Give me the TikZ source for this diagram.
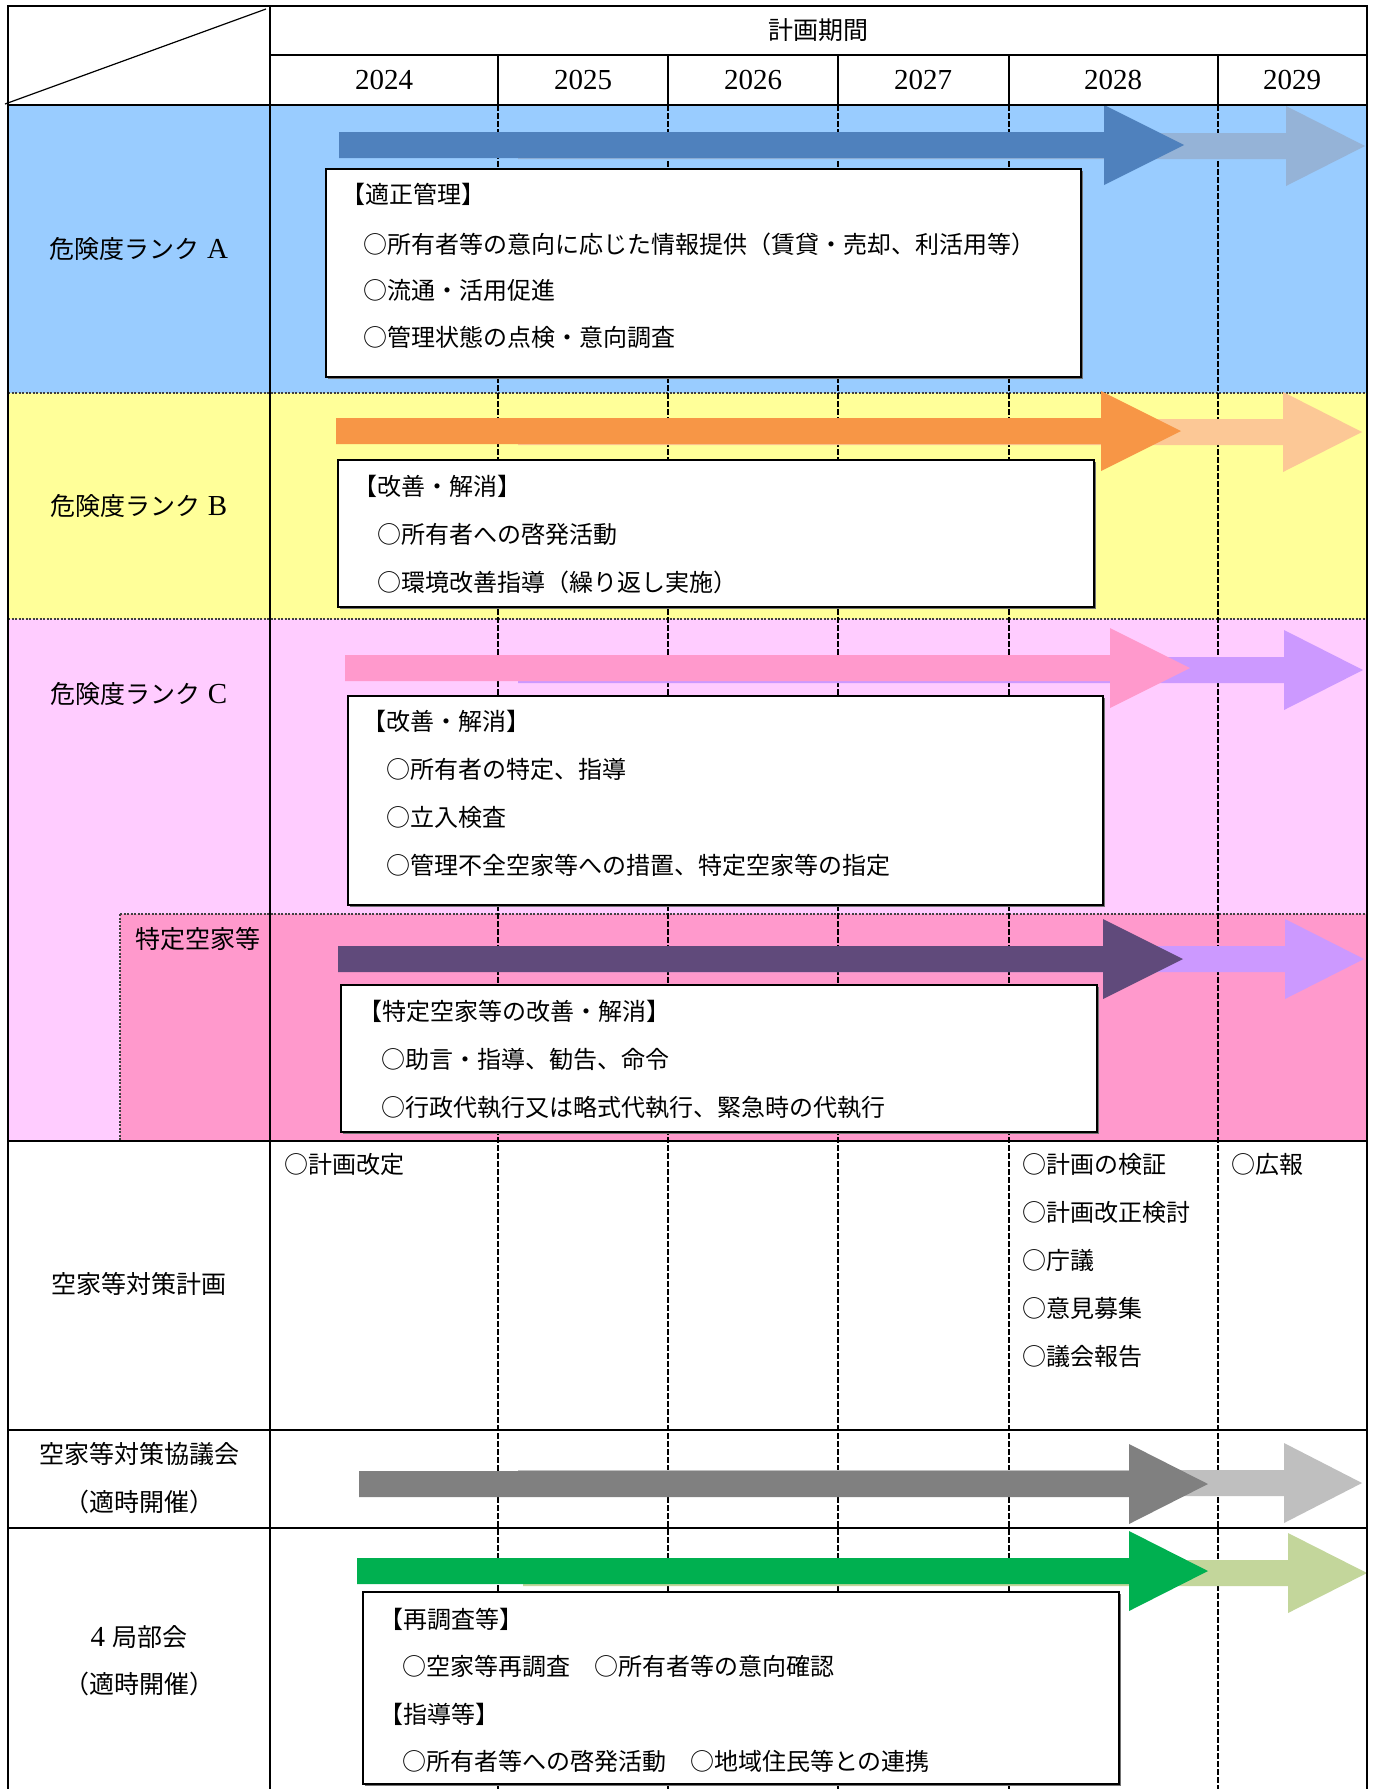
\documentclass[tikz,border=0pt]{standalone}
\usepackage{fontspec}
\newfontfamily\cjk{Noto Sans CJK JP}
\newfontfamily\latn{Liberation Serif}
\usetikzlibrary{shadows}
\definecolor{bgA}{HTML}{99CCFF}
\definecolor{bgB}{HTML}{FFFF99}
\definecolor{bgC}{HTML}{FFCCFF}
\definecolor{bgD}{HTML}{FF99CC}
\definecolor{arA}{HTML}{4F81BD}
\definecolor{arAl}{HTML}{95B3D7}
\definecolor{arB}{HTML}{F79646}
\definecolor{arBl}{HTML}{FCC896}
\definecolor{arC}{HTML}{FF99CC}
\definecolor{arCl}{HTML}{CC99FF}
\definecolor{arD}{HTML}{604A7B}
\definecolor{arG}{HTML}{808080}
\definecolor{arGl}{HTML}{BFBFBF}
\definecolor{arN}{HTML}{00B050}
\definecolor{arNl}{HTML}{C3D69B}
\newcommand\bxfont{\cjk\fontsize{24pt}{28pt}\selectfont}
\newcommand\lblfont{\cjk\fontsize{25pt}{30pt}\selectfont}
\newcommand\yrfont{\latn\fontsize{29pt}{32pt}\selectfont}
\newcommand\lat[1]{{\latn\fontsize{29pt}{32pt}\selectfont #1}}
% #1 colour, #2 x start, #3 x head base, #4 x tip, #5 y centre
\newcommand\blockarrow[5]{%
  \fill[#1] (#2,#5-13) -- (#3,#5-13) -- (#3,#5-40) -- (#4,#5) -- (#3,#5+40) -- (#3,#5+13) -- (#2,#5+13) -- cycle;}
\tikzset{
  rowlabel/.style={font=\lblfont, inner sep=0pt, text height=20pt, text depth=4pt},
  boxtxt/.style={anchor=west, font=\bxfont, inner sep=0pt, text height=20pt, text depth=4pt},
  yeartxt/.style={font=\yrfont, inner sep=0pt},
  infobox/.style={draw=black, line width=1.8pt, fill=white, anchor=north west, inner sep=0pt,
    drop shadow={shadow xshift=2.5pt, shadow yshift=-2.5pt, fill=black!55, opacity=1}},
  tableline/.style={line width=2pt, black},
  yeardiv/.style={line width=2.2pt, black, dash pattern=on 6pt off 2pt},
  sepline/.style={line width=1.2pt, black!75, dash pattern=on 2pt off 1.5pt},
}
\begin{document}
\begin{tikzpicture}[x=1pt,y=-1pt]
\useasboundingbox (0,0) rectangle (1379,1789);
\fill[white] (0,0) rectangle (1379,1789);
% backgrounds
\fill[bgA] (8,105) rectangle (1367,393);
\fill[bgB] (8,393) rectangle (1367,619);
\fill[bgC] (8,619) rectangle (1367,1141);
\fill[bgD] (120,914) rectangle (1367,1141);
% section separators
\draw[sepline] (8,393) -- (1367,393);
\draw[sepline] (8,619) -- (1367,619);
\draw[sepline] (120,914) -- (1367,914);
\draw[sepline] (120,914) -- (120,1141);
% year dividers in body
\foreach \xx in {498,668,838,1009,1218}{
  \draw[yeardiv] (\xx,105) -- (\xx,1789);
}
% arrows (light first, dark over)
\blockarrow{arAl}{518}{1286}{1365}{146}
\blockarrow{arA}{339}{1104}{1184}{145}
\blockarrow{arBl}{518}{1283}{1362}{432}
\blockarrow{arB}{336}{1101}{1181}{431}
\blockarrow{arCl}{518}{1284}{1363}{670}
\blockarrow{arC}{345}{1110}{1190}{668}
\blockarrow{arCl}{518}{1285}{1364}{959}
\blockarrow{arD}{338}{1103}{1183}{959}
\blockarrow{arGl}{518}{1284}{1362}{1483}
\blockarrow{arG}{359}{1129}{1208}{1484}
\blockarrow{arNl}{523}{1288}{1367}{1573}
\blockarrow{arN}{357}{1129}{1208}{1571}
% boxes
\node[infobox, minimum width=755pt, minimum height=208pt] (boxA) at (325,168) {};
\node[infobox, minimum width=756pt, minimum height=147pt] (boxB) at (337,459) {};
\node[infobox, minimum width=755pt, minimum height=209pt] (boxC) at (347,695) {};
\node[infobox, minimum width=756pt, minimum height=147pt] (boxD) at (340,984) {};
\node[infobox, minimum width=756pt, minimum height=192pt] (boxE) at (362,1591) {};
% box texts
\node[boxtxt] (a1) at (341,195) {【適正管理】};
\node[boxtxt] (a2) at (363,245) {○所有者等の意向に応じた情報提供（賃貸・売却、利活用等）};
\node[boxtxt] (a3) at (363,291) {○流通・活用促進};
\node[boxtxt] (a4) at (363,338) {○管理状態の点検・意向調査};
\node[boxtxt] (b1) at (353,487) {【改善・解消】};
\node[boxtxt] (b2) at (377,535) {○所有者への啓発活動};
\node[boxtxt] (b3) at (377,583) {○環境改善指導（繰り返し実施）};
\node[boxtxt] (c1) at (362,722) {【改善・解消】};
\node[boxtxt] (c2) at (386,770) {○所有者の特定、指導};
\node[boxtxt] (c3) at (386,818) {○立入検査};
\node[boxtxt] (c4) at (386,866) {○管理不全空家等への措置、特定空家等の指定};
\node[boxtxt] (d1) at (358,1012) {【特定空家等の改善・解消】};
\node[boxtxt] (d2) at (381,1060) {○助言・指導、勧告、命令};
\node[boxtxt] (d3) at (381,1108) {○行政代執行又は略式代執行、緊急時の代執行};
\node[boxtxt] (e1) at (379,1620) {【再調査等】};
\node[boxtxt] (e2) at (402,1667) {○空家等再調査　○所有者等の意向確認};
\node[boxtxt] (e3) at (379,1715) {【指導等】};
\node[boxtxt] (e4) at (402,1762) {○所有者等への啓発活動　○地域住民等との連携};
% plan texts
\node[boxtxt] (p1) at (284,1165) {○計画改定};
\node[boxtxt] (p2) at (1022,1165) {○計画の検証};
\node[boxtxt] (p3) at (1022,1213) {○計画改正検討};
\node[boxtxt] (p4) at (1022,1261) {○庁議};
\node[boxtxt] (p5) at (1022,1309) {○意見募集};
\node[boxtxt] (p6) at (1022,1357) {○議会報告};
\node[boxtxt] (p7) at (1231,1165) {○広報};
% row labels
\node[rowlabel] (lA) at (139,250) {危険度ランク\lat{\ A}};
\node[rowlabel] (lB) at (139,507) {危険度ランク\lat{\ B}};
\node[rowlabel] (lC) at (139,695) {危険度ランク\lat{\ C}};
\node[rowlabel, anchor=west] (lD) at (135,940) {特定空家等};
\node[rowlabel] (lP) at (139,1285) {空家等対策計画};
\node[rowlabel] (lK1) at (139,1455) {空家等対策協議会};
\node[rowlabel] (lK2) at (139,1503) {（適時開催）};
\node[rowlabel] (lY1) at (139,1638) {\lat{4\ }局部会};
\node[rowlabel] (lY2) at (139,1685) {（適時開催）};
% header
\node[rowlabel] (hdr) at (818,31) {計画期間};
\node[yeartxt] (y24) at (384,80) {2024};
\node[yeartxt] (y25) at (583,80) {2025};
\node[yeartxt] (y26) at (753,80) {2026};
\node[yeartxt] (y27) at (923,80) {2027};
\node[yeartxt] (y28) at (1113,80) {2028};
\node[yeartxt] (y29) at (1292,80) {2029};
% table lines
\draw[tableline] (8,1789) -- (8,6) -- (1367,6) -- (1367,1789);
\draw[tableline] (270,6) -- (270,1789);
\draw[tableline] (270,55) -- (1367,55);
\draw[tableline] (8,105) -- (1367,105);
\foreach \xx in {498,668,838,1009,1218}{
  \draw[tableline] (\xx,55) -- (\xx,105);
}
\draw[tableline] (8,1141) -- (1367,1141);
\draw[tableline] (8,1430) -- (1367,1430);
\draw[tableline] (8,1528) -- (1367,1528);
\draw[line width=1.2pt] (5,104) -- (266,9);
\end{tikzpicture}
\end{document}
